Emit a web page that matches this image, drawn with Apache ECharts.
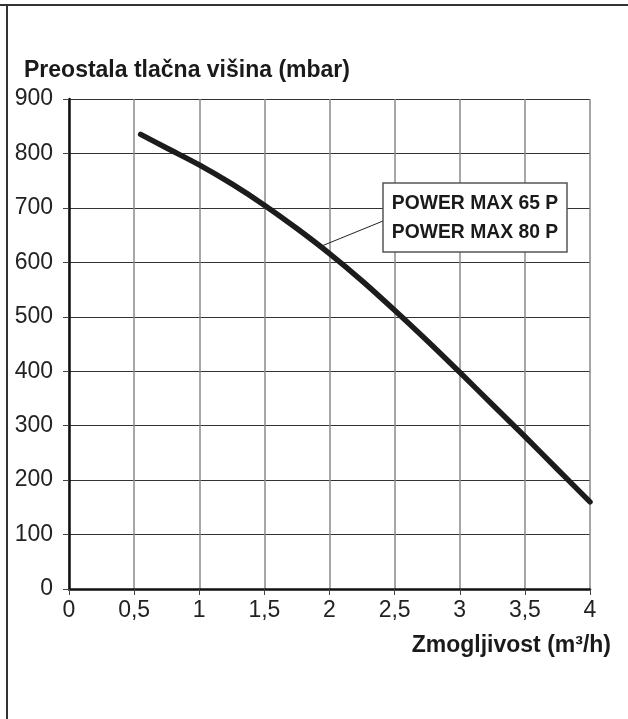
<!DOCTYPE html>
<html>
<head>
<meta charset="utf-8">
<script src="https://cdn.jsdelivr.net/npm/echarts@6/dist/echarts.min.js"></script>
<style>
html,body{margin:0;padding:0;background:#fff;}
#chart{width:628px;height:719px;}
</style>
</head>
<body>
<div id="chart"></div>
<script>
// ---- data ----
const yTitle = 'Preostala tlačna višina (mbar)';
const xTitle = 'Zmogljivost (m³/h)';
const legendLines = ['POWER MAX 65 P', 'POWER MAX 80 P'];
const flow = [0.55, 0.75, 1.0, 1.25, 1.5, 1.75, 2.0, 2.25, 2.5, 2.75, 3.0, 3.25, 3.5, 3.75, 4.0];
const head = [835, 810, 779, 744, 705, 662, 616, 566, 512, 456, 398, 339, 280, 220, 160];
const leaderPoint = [1.94, 630];
const xTicks = [0, 0.5, 1, 1.5, 2, 2.5, 3, 3.5, 4];
const yTicks = [0, 100, 200, 300, 400, 500, 600, 700, 800, 900];

const labelFont = '"Liberation Sans", Arial, Helvetica, sans-serif';
const boldFont = '"Liberation Sans", Arial, Helvetica, sans-serif';

const chart = echarts.init(document.getElementById('chart'), null, {renderer: 'canvas'});

const option = {
  animation: false,
  backgroundColor: '#fff',
  grid: {left: 69, right: 38, top: 99, bottom: 130, containLabel: false},
  xAxis: {
    type: 'value', min: 0, max: 4, interval: 0.5,
    axisLine: {show: true, onZero: false, lineStyle: {color: '#111', width: 2.5}},
    axisTick: {show: true, inside: false, length: 6, lineStyle: {color: '#444', width: 1}},
    axisLabel: {
      margin: 10, color: '#222', fontSize: 23, fontFamily: labelFont,
      formatter: v => String(v).replace('.', ',')
    },
    splitLine: {show: true, lineStyle: {color: '#8a8a8a', width: 1.5}}
  },
  yAxis: {
    type: 'value', min: 0, max: 900, interval: 100,
    axisLine: {show: true, lineStyle: {color: '#111', width: 2.5}},
    axisTick: {show: true, inside: false, length: 6, lineStyle: {color: '#444', width: 1}},
    axisLabel: {margin: 16, color: '#222', fontSize: 23, fontFamily: labelFont},
    splitLine: {show: true, lineStyle: {color: '#333', width: 1}}
  },
  series: [{
    type: 'line',
    data: flow.map((x, i) => [x, head[i]]),
    smooth: 0.3,
    showSymbol: false,
    lineStyle: {color: '#1c1c1c', width: 5.5, cap: 'round'},
    z: 5
  }],
  graphic: []
};
chart.setOption(option);

const p = chart.convertToPixel({gridIndex: 0}, leaderPoint);
const boxX = 383, boxY = 183, boxW = 184, boxH = 69;

chart.setOption({
  graphic: [
    {type: 'line', z: 200, shape: {x1: 0, y1: 5, x2: 628, y2: 5}, style: {stroke: '#333', lineWidth: 2}},
    {type: 'line', z: 200, shape: {x1: 7, y1: 5, x2: 7, y2: 719}, style: {stroke: '#333', lineWidth: 2}},
    {type: 'text', z: 200, x: 24, y: 71,
      style: {text: yTitle, font: 'bold 23px ' + boldFont, fill: '#1a1a1a', textAlign: 'left', textVerticalAlign: 'middle'}},
    {type: 'text', z: 200, x: 611, y: 646,
      style: {text: xTitle, font: 'bold 23px ' + boldFont, fill: '#1a1a1a', textAlign: 'right', textVerticalAlign: 'middle'}},
    {type: 'line', z: 150, shape: {x1: p[0], y1: p[1], x2: boxX, y2: boxY + 38}, style: {stroke: '#222', lineWidth: 1}},
    {type: 'rect', z: 160, shape: {x: boxX, y: boxY, width: boxW, height: boxH},
      style: {fill: '#fff', stroke: '#555', lineWidth: 1.5}},
    {type: 'text', z: 170, x: boxX + boxW / 2, y: boxY + 20, scaleX: 0.92,
      style: {text: legendLines[0], font: 'bold 21px ' + boldFont, fill: '#1a1a1a', textAlign: 'center', textVerticalAlign: 'middle'}},
    {type: 'text', z: 170, x: boxX + boxW / 2, y: boxY + 49, scaleX: 0.92,
      style: {text: legendLines[1], font: 'bold 21px ' + boldFont, fill: '#1a1a1a', textAlign: 'center', textVerticalAlign: 'middle'}}
  ]
});
</script>
</body>
</html>
